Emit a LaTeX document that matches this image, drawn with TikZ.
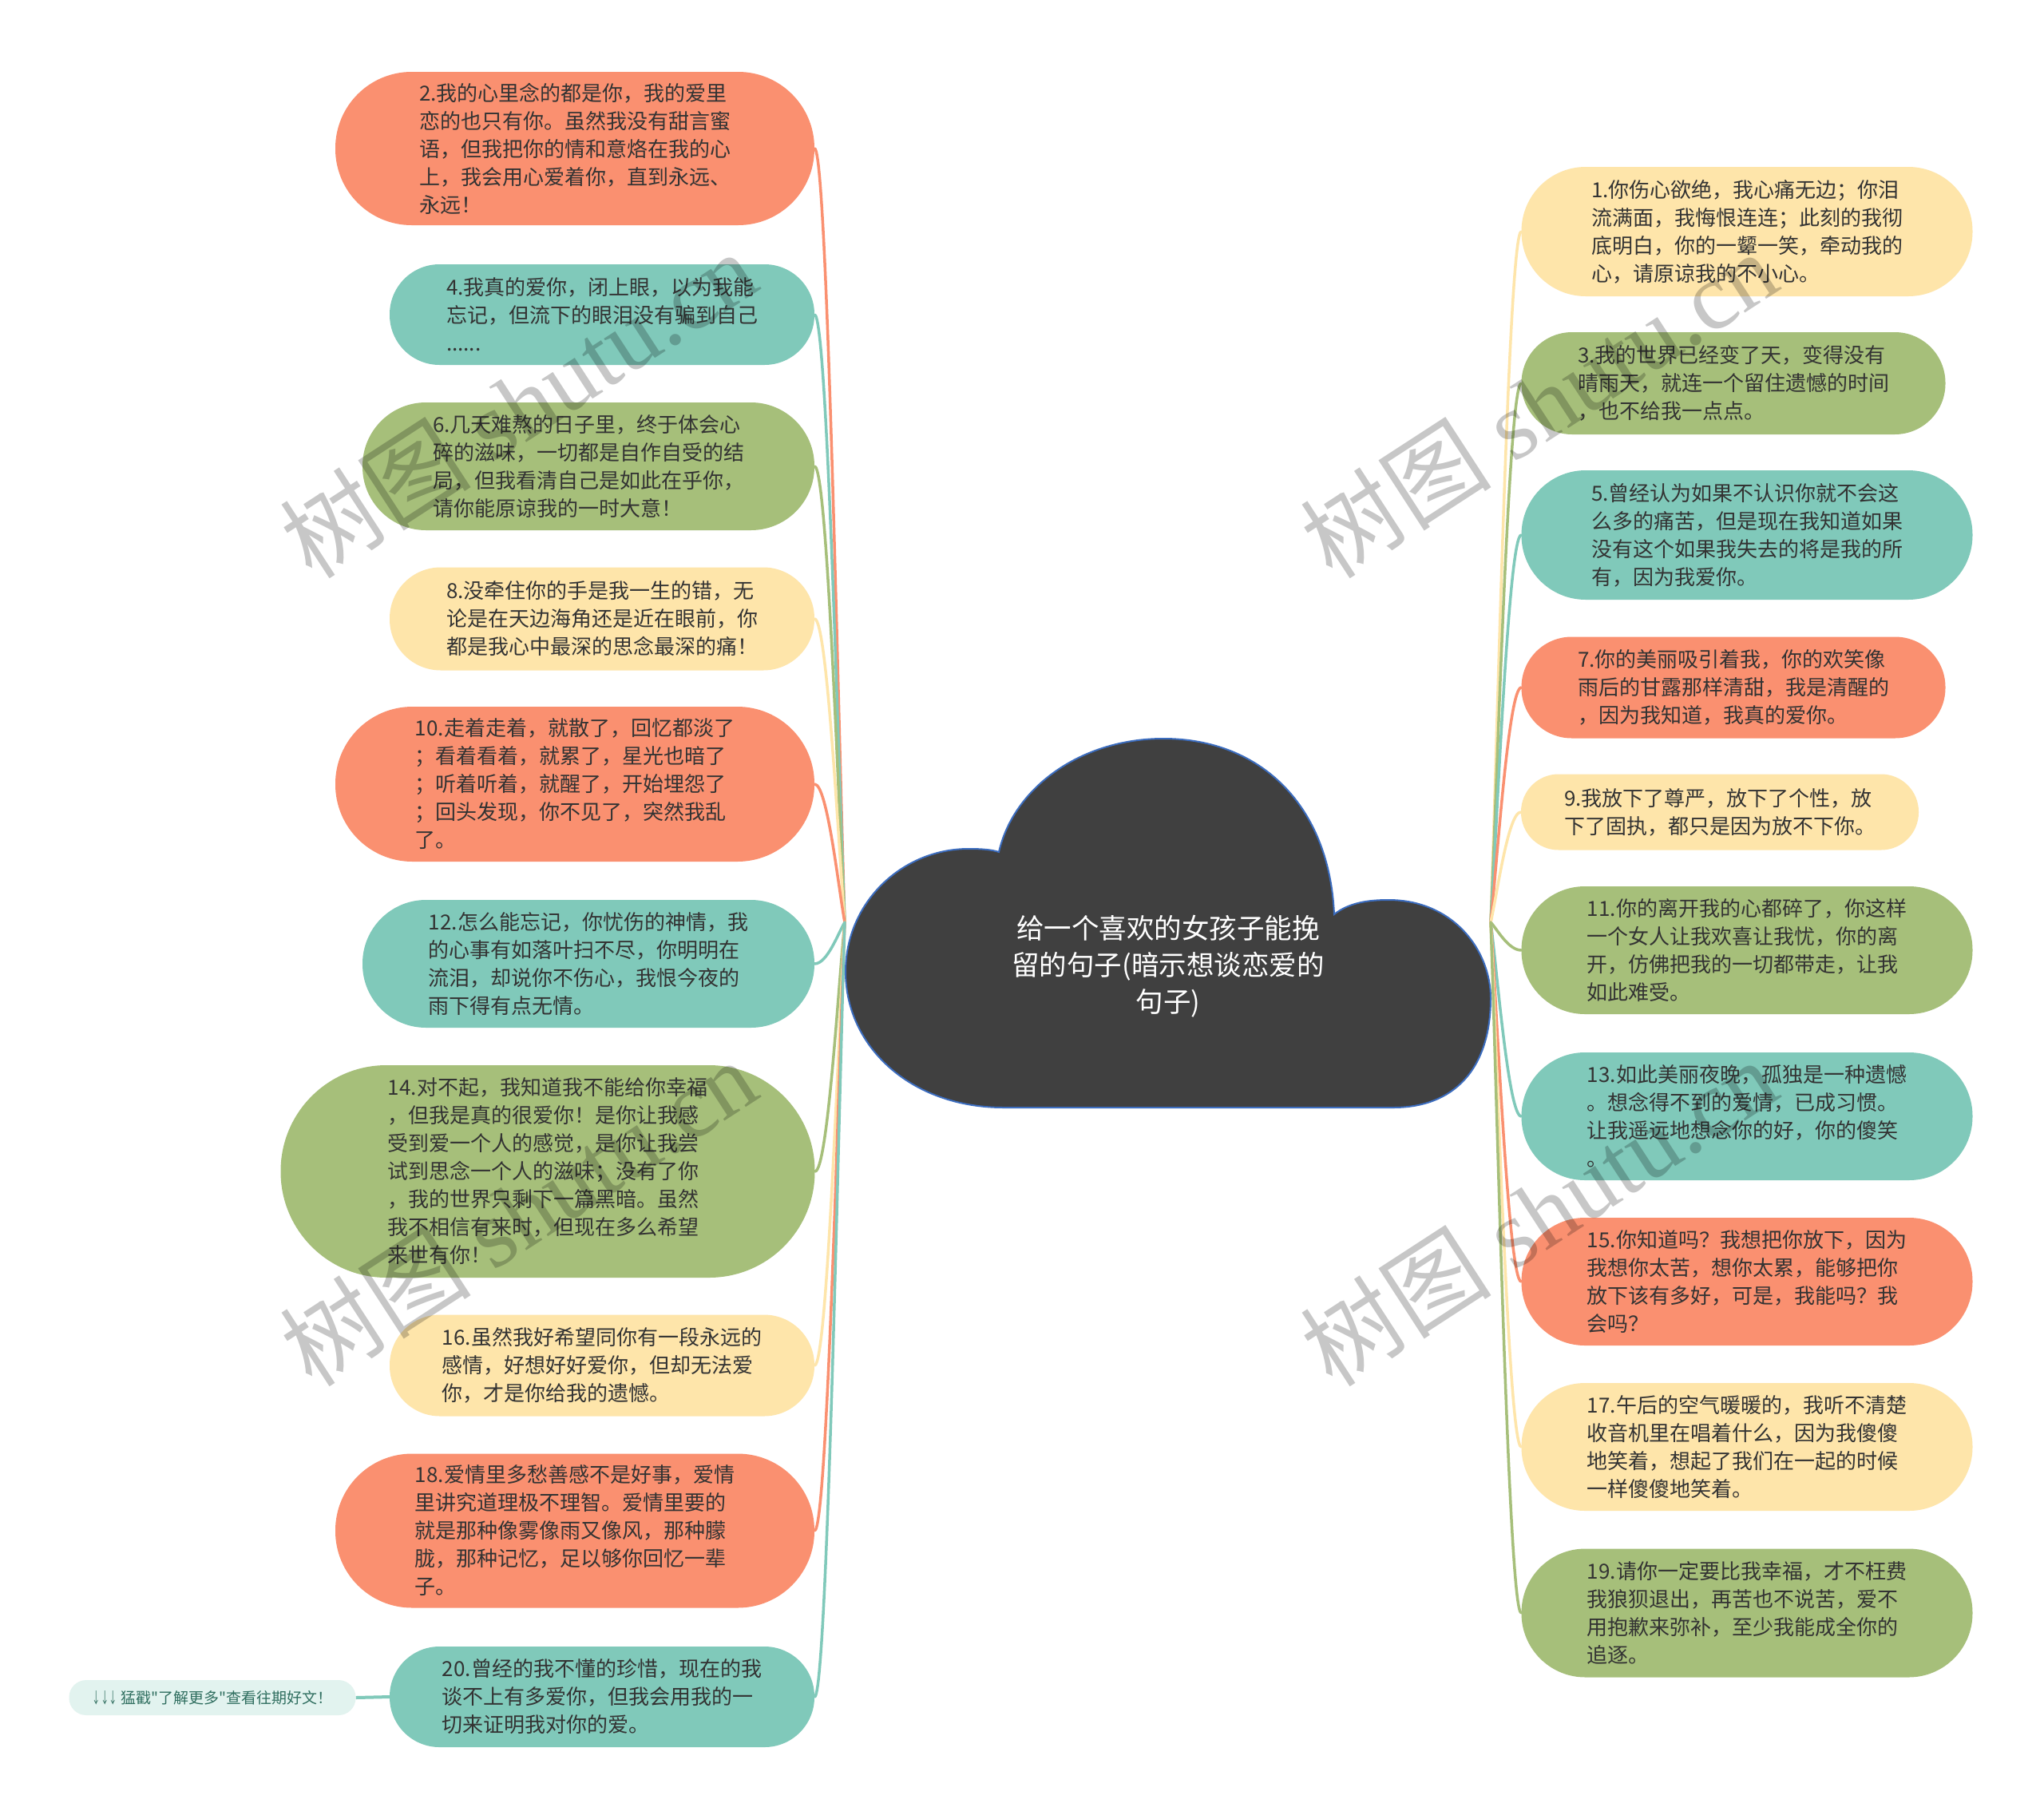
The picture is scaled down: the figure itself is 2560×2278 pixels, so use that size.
\documentclass[tikz,border=0pt]{standalone}
\usepackage{fontspec}
\newfontfamily\cjk{Noto Sans CJK SC}
\newfontfamily\wmser{Liberation Serif}
\usetikzlibrary{calc}
\definecolor{cOr}{HTML}{FA9070}
\definecolor{cTe}{HTML}{80C9BA}
\definecolor{cGr}{HTML}{A6BF7A}
\definecolor{cYe}{HTML}{FEE5AA}
\definecolor{cTxt}{HTML}{333333}
\definecolor{cCloud}{HTML}{404040}
\definecolor{cCloudB}{HTML}{3C6DBF}
\definecolor{cMint}{HTML}{E2F3EF}
\definecolor{cMintT}{HTML}{2F6E5F}
\pgfdeclarelayer{bg}
\pgfsetlayers{bg,main}
\newcommand\lconn[2]{\draw[lk=#1] (L) .. controls ($(L)!0.25!(L|-#2.east)+(-8,0)$) and ($(#2.east)+(16,0)$) .. (#2.east);}
\newcommand\rconn[2]{\draw[lk=#1] (R) .. controls ($(R)!0.25!(R|-#2.west)+(8,0)$) and ($(#2.west)+(-16,0)$) .. (#2.west);}
\begin{document}
\begin{tikzpicture}[x=1pt,y=-1pt,
  pill/.style={fill=#1, text=cTxt, align=left, inner sep=0pt,
    font=\cjk\fontsize{26}{35}\selectfont},
  lk/.style={draw=#1, line width=3.5pt, line cap=round},
  wm/.style={text=black, opacity=0.22, rotate=33, inner sep=0pt,
    font=\wmser\fontsize{120}{120}\selectfont}]
\useasboundingbox (0,0) rectangle (2560,2278);

% ---------- left nodes ----------
\node[pill=cOr, minimum width=600, minimum height=192, rounded corners=95.5] (n2) at (720,186)
 {2.我的心里念的都是你，我的爱里\\恋的也只有你。虽然我没有甜言蜜\\语，但我把你的情和意烙在我的心\\上，我会用心爱着你，直到永远、\\永远！};
\node[pill=cTe, minimum width=532, minimum height=126, rounded corners=62.5] (n4) at (754,394)
 {4.我真的爱你，闭上眼，以为我能\\忘记，但流下的眼泪没有骗到自己\\......};
\node[pill=cGr, minimum width=566, minimum height=160, rounded corners=79.5] (n6) at (737,584)
 {6.几天难熬的日子里，终于体会心\\碎的滋味，一切都是自作自受的结\\局，但我看清自己是如此在乎你，\\请你能原谅我的一时大意！};
\node[pill=cYe, minimum width=532, minimum height=129, rounded corners=64] (n8) at (754,775)
 {8.没牵住你的手是我一生的错，无\\论是在天边海角还是近在眼前，你\\都是我心中最深的思念最深的痛！};
\node[pill=cOr, minimum width=600, minimum height=194, rounded corners=96.5] (n10) at (720,982)
 {10.走着走着，就散了，回忆都淡了\\；看着看着，就累了，星光也暗了\\；听着听着，就醒了，开始埋怨了\\；回头发现，你不见了，突然我乱\\了。};
\node[pill=cTe, minimum width=566, minimum height=160, rounded corners=79.5] (n12) at (737,1207)
 {12.怎么能忘记，你忧伤的神情，我\\的心事有如落叶扫不尽，你明明在\\流泪，却说你不伤心，我恨今夜的\\雨下得有点无情。};
\node[pill=cGr, minimum width=669, minimum height=266, rounded corners=132.5] (n14) at (686,1467)
 {14.对不起，我知道我不能给你幸福\\，但我是真的很爱你！是你让我感\\受到爱一个人的感觉，是你让我尝\\试到思念一个人的滋味；没有了你\\，我的世界只剩下一篇黑暗。虽然\\我不相信有来时，但现在多么希望\\来世有你！};
\node[pill=cYe, minimum width=532, minimum height=127, rounded corners=63] (n16) at (754,1710)
 {16.虽然我好希望同你有一段永远的\\感情，好想好好爱你，但却无法爱\\你，才是你给我的遗憾。};
\node[pill=cOr, minimum width=600, minimum height=193, rounded corners=96] (n18) at (720,1917)
 {18.爱情里多愁善感不是好事，爱情\\里讲究道理极不理智。爱情里要的\\就是那种像雾像雨又像风，那种朦\\胧，那种记忆，足以够你回忆一辈\\子。};
\node[pill=cTe, minimum width=532, minimum height=126, rounded corners=62.5] (n20) at (754,2125)
 {20.曾经的我不懂的珍惜，现在的我\\谈不上有多爱你，但我会用我的一\\切来证明我对你的爱。};
\node[fill=cMint, text=cMintT, inner sep=0pt, minimum width=359, minimum height=44,
  rounded corners=21.5, font=\cjk\fontsize{19}{22}\selectfont] (more) at (266,2126)
 {\scalebox{0.55}[1]{↓↓↓}\ 猛戳"了解更多"查看往期好文！};

% ---------- right nodes ----------
\node[pill=cYe, minimum width=565, minimum height=162, rounded corners=80.5] (n1) at (2188,290)
 {1.你伤心欲绝，我心痛无边；你泪\\流满面，我悔恨连连；此刻的我彻\\底明白，你的一颦一笑，牵动我的\\心，请原谅我的不小心。};
\node[pill=cGr, minimum width=531, minimum height=128, rounded corners=63.5] (n3) at (2171,480)
 {3.我的世界已经变了天，变得没有\\晴雨天，就连一个留住遗憾的时间\\，也不给我一点点。};
\node[pill=cTe, minimum width=565, minimum height=162, rounded corners=80.5] (n5) at (2188,670)
 {5.曾经认为如果不认识你就不会这\\么多的痛苦，但是现在我知道如果\\没有这个如果我失去的将是我的所\\有，因为我爱你。};
\node[pill=cOr, minimum width=531, minimum height=127, rounded corners=63] (n7) at (2171,861)
 {7.你的美丽吸引着我，你的欢笑像\\雨后的甘露那样清甜，我是清醒的\\，因为我知道，我真的爱你。};
\node[pill=cYe, minimum width=498, minimum height=95, rounded corners=47] (n9) at (2154,1017)
 {9.我放下了尊严，放下了个性，放\\下了固执，都只是因为放不下你。};
\node[pill=cGr, minimum width=565, minimum height=160, rounded corners=79.5] (n11) at (2188,1190)
 {11.你的离开我的心都碎了，你这样\\一个女人让我欢喜让我忧，你的离\\开，仿佛把我的一切都带走，让我\\如此难受。};
\node[pill=cTe, minimum width=565, minimum height=160, rounded corners=79.5] (n13) at (2188,1398)
 {13.如此美丽夜晚，孤独是一种遗憾\\。想念得不到的爱情，已成习惯。\\让我遥远地想念你的好，你的傻笑\\。};
\node[pill=cOr, minimum width=565, minimum height=160, rounded corners=79.5] (n15) at (2188,1605)
 {15.你知道吗？我想把你放下，因为\\我想你太苦，想你太累，能够把你\\放下该有多好，可是，我能吗？我\\会吗？};
\node[pill=cYe, minimum width=565, minimum height=160, rounded corners=79.5] (n17) at (2188,1812)
 {17.午后的空气暖暖的，我听不清楚\\收音机里在唱着什么，因为我傻傻\\地笑着，想起了我们在一起的时候\\一样傻傻地笑着。};
\node[pill=cGr, minimum width=565, minimum height=161, rounded corners=80] (n19) at (2188,2020)
 {19.请你一定要比我幸福，才不枉费\\我狼狈退出，再苦也不说苦，爱不\\用抱歉来弥补，至少我能成全你的\\追逐。};

% ---------- central cloud ----------
\path[fill=cCloud, draw=cCloudB, line width=2pt]
  (1251,1067) .. controls (1270,985) and (1355,925) .. (1457,925)
  .. controls (1580,925) and (1665,1010) .. (1671,1145)
  .. controls (1690,1130) and (1715,1127) .. (1739,1127)
  .. controls (1820,1127) and (1867,1190) .. (1867,1250)
  .. controls (1867,1340) and (1820,1387) .. (1745,1387)
  -- (1257,1387)
  .. controls (1140,1387) and (1059,1310) .. (1059,1217)
  .. controls (1059,1130) and (1130,1063) .. (1213,1063)
  .. controls (1230,1063) and (1242,1064) .. (1251,1067) -- cycle;
\node[text=white, align=center, inner sep=0pt, font=\cjk\fontsize{34.5}{46}\selectfont] (root) at (1463,1210)
 {给一个喜欢的女孩子能挽\\留的句子(暗示想谈恋爱的\\句子)};
\coordinate (L) at (1058,1155);
\coordinate (R) at (1867,1155);

% ---------- connectors ----------
\begin{pgfonlayer}{bg}
\fill[white] (0,0) rectangle (2560,2278);
\lconn{cOr}{n2}
\lconn{cTe}{n4}
\lconn{cGr}{n6}
\lconn{cYe}{n8}
\lconn{cOr}{n10}
\lconn{cTe}{n12}
\lconn{cGr}{n14}
\lconn{cYe}{n16}
\lconn{cOr}{n18}
\lconn{cTe}{n20}
\rconn{cYe}{n1}
\rconn{cGr}{n3}
\rconn{cTe}{n5}
\rconn{cOr}{n7}
\rconn{cYe}{n9}
\rconn{cGr}{n11}
\rconn{cTe}{n13}
\rconn{cOr}{n15}
\rconn{cYe}{n17}
\rconn{cGr}{n19}
\draw[lk=cTe, line width=4pt, line cap=butt] (more.east) -- (n20.west);
\end{pgfonlayer}

% ---------- watermarks ----------
\node[wm] (w1) at (649,506) {{\cjk 树图} shutu.cn};
\node[wm] (w2) at (1927,506) {{\cjk 树图} shutu.cn};
\node[wm] (w3) at (649,1518) {{\cjk 树图} shutu.cn};
\node[wm] (w4) at (1927,1518) {{\cjk 树图} shutu.cn};
\end{tikzpicture}
\end{document}
